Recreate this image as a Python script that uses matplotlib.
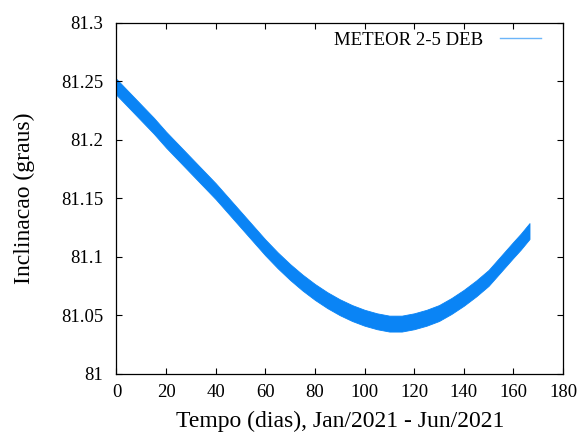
import matplotlib
matplotlib.use("Agg")
import matplotlib.pyplot as plt

# inclination readings (centre of the band)
days = [0, 5, 10, 15, 20, 25, 30, 35, 40, 45, 50, 55, 60, 65, 70, 75, 80, 85,
        90, 95, 100, 105, 110, 115, 120, 125, 130, 135, 140, 145, 150, 155,
        160, 163, 166.5]
incl = [81.245, 81.234, 81.223, 81.212, 81.200, 81.189, 81.178, 81.167,
        81.156, 81.144, 81.132, 81.120, 81.108, 81.097, 81.087, 81.078,
        81.070, 81.063, 81.057, 81.052, 81.048, 81.045, 81.043, 81.043,
        81.045, 81.048, 81.052, 81.058, 81.065, 81.073, 81.082, 81.094,
        81.106, 81.113, 81.122]
# half-width of the short-period oscillation band
spread = 0.0068

xticks = [0, 20, 40, 60, 80, 100, 120, 140, 160, 180]
yticks = [81.0, 81.05, 81.1, 81.15, 81.2, 81.25, 81.3]
ylabels = ["81", "81.05", "81.1", "81.15", "81.2", "81.25", "81.3"]

plt.rcParams['font.family'] = ['Liberation Serif', 'DejaVu Serif']
blue = '#0a84f5'

fig = plt.figure(figsize=(5.81, 4.33), dpi=100)
ax = fig.add_axes([0.2005, 0.1363, 0.7685, 0.8117])

lower = [v - spread for v in incl]
upper = [v + spread for v in incl]
ax.fill_between(days, lower, upper, color=blue, linewidth=0.6, edgecolor=blue)
ax.plot([], [], color=blue, linewidth=1.0, alpha=0.6, label='METEOR 2-5 DEB')

ax.set_xlim(0, 180)
ax.set_ylim(81.0, 81.3)
ax.set_xticks(xticks)
ax.set_yticks(yticks)
ax.set_yticklabels(ylabels)
ax.tick_params(direction='in', length=4, width=0.8, top=True, right=True,
               labelsize=13.5, pad=7)
ax.tick_params(axis='y', pad=9.5)
for s in ax.spines.values():
    s.set_linewidth(0.9)

ax.set_xlabel('Tempo (dias), Jan/2021 - Jun/2021', fontsize=17, labelpad=7)
ax.set_ylabel('Inclinacao (graus)', fontsize=17, labelpad=19)

leg = ax.legend(loc='upper right', frameon=False, fontsize=13.5,
                markerfirst=False, handlelength=2.2, handletextpad=0.9,
                borderaxespad=0.1, bbox_to_anchor=(0.972, 1.0))

fig.savefig('out.png', dpi=100)
